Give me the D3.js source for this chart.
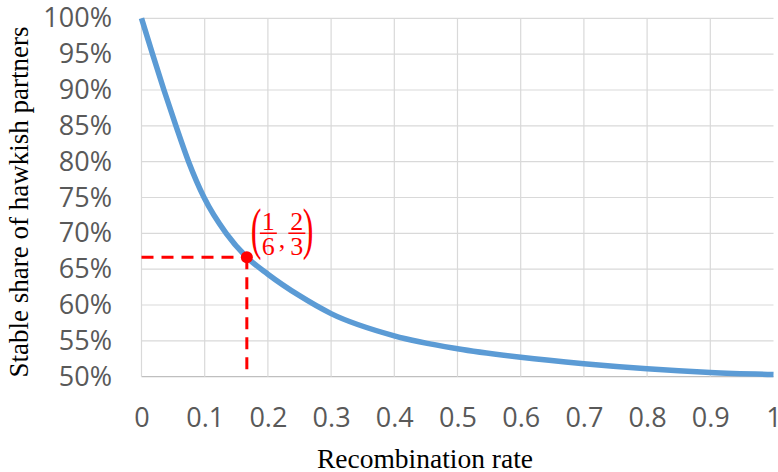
<!DOCTYPE html>
<html>
<head>
<meta charset="utf-8">
<script src="https://cdn.jsdelivr.net/npm/d3@7"></script>
<style>
  body { margin: 0; background: #fff; }
</style>
</head>
<body>
<script>
const width = 778;
const height = 472;

// values
const rates = [0, 0.0175, 0.0355, 0.0545, 0.0745, 0.099, 0.134, 1 / 6, 0.2, 0.25, 0.3, 0.4, 0.5, 0.6, 0.7, 0.8, 0.9, 1.0];
const shares = [1.0, 0.95, 0.90, 0.85, 0.80, 0.75, 0.70, 2 / 3, 0.643, 0.613, 0.588, 0.557, 0.539, 0.527, 0.518, 0.511, 0.506, 0.503];
const xTicks = [0, 0.1, 0.2, 0.3, 0.4, 0.5, 0.6, 0.7, 0.8, 0.9, 1];
const yTicks = [0.5, 0.55, 0.6, 0.65, 0.7, 0.75, 0.8, 0.85, 0.9, 0.95, 1];
const markX = 1 / 6;
const markY = 2 / 3;

const svg = d3.select("body").append("svg")
  .attr("width", width)
  .attr("height", height);

const x = d3.scaleLinear().domain([0, 1]).range([141.5, 773.5]);
const y = d3.scaleLinear().domain([0.5, 1]).range([376.7, 18.3]);

// grid
svg.append("g")
  .selectAll("line")
  .data(yTicks)
  .join("line")
  .attr("x1", x(0)).attr("x2", x(1))
  .attr("y1", d => y(d)).attr("y2", d => y(d))
  .attr("stroke", d => d === 0.5 ? "#bfbfbf" : "#d9d9d9")
  .attr("stroke-width", 1.2);

svg.append("g")
  .selectAll("line")
  .data(xTicks.slice(0, -1))
  .join("line")
  .attr("x1", d => x(d)).attr("x2", d => x(d))
  .attr("y1", y(1)).attr("y2", y(0.5))
  .attr("stroke", "#d9d9d9")
  .attr("stroke-width", 1.2);

// axes (labels only, Excel style)
const yAxis = d3.axisLeft(y).tickValues(yTicks).tickFormat(d3.format(".0%")).tickSize(0).tickPadding(0);
const gy = svg.append("g").attr("transform", "translate(112,0)").call(yAxis);
const xAxis = d3.axisBottom(x).tickValues(xTicks).tickFormat(d => d3.format("")(d)).tickSize(0).tickPadding(0);
const gx = svg.append("g").attr("transform", "translate(0,407.5)").call(xAxis);
[gy, gx].forEach(g => {
  g.select(".domain").remove();
  g.selectAll("text")
    .attr("font-family", "'Open Sans', sans-serif")
    .attr("font-size", 27)
    .attr("fill", "#595959");
});

// curve
const pts = rates.map((r, i) => [r, shares[i]]);
svg.append("path")
  .datum(pts)
  .attr("d", d3.line().x(d => x(d[0])).y(d => y(d[1])).curve(d3.curveMonotoneX))
  .attr("fill", "none")
  .attr("stroke", "#5b9bd5")
  .attr("stroke-width", 5.5);

// annotation
const px = x(markX), py = y(markY);
svg.append("line")
  .attr("x1", x(0)).attr("x2", px).attr("y1", py).attr("y2", py)
  .attr("stroke", "#ff0000").attr("stroke-width", 3).attr("stroke-dasharray", "12,8");
svg.append("line")
  .attr("x1", px).attr("x2", px).attr("y1", py).attr("y2", y(0.5))
  .attr("stroke", "#ff0000").attr("stroke-width", 3).attr("stroke-dasharray", "12,8");
svg.append("circle")
  .attr("cx", px).attr("cy", py).attr("r", 6)
  .attr("fill", "#ff0000");

const lab = svg.append("g")
  .attr("transform", `translate(${px},${py})`)
  .attr("fill", "#ff0000")
  .attr("font-family", "'Liberation Serif', serif");
lab.append("text").text("(")
  .attr("transform", "translate(4,-9) scale(1,1.75)")
  .attr("font-size", 32);
lab.append("text").text(")")
  .attr("transform", "translate(56,-9) scale(1,1.75)")
  .attr("font-size", 32);
lab.append("text").text("1").attr("x", 21.5).attr("y", -27).attr("text-anchor", "middle").attr("font-size", 26);
lab.append("text").text("6").attr("x", 21.5).attr("y", -2).attr("text-anchor", "middle").attr("font-size", 26);
lab.append("text").text("2").attr("x", 50).attr("y", -27).attr("text-anchor", "middle").attr("font-size", 26);
lab.append("text").text("3").attr("x", 50).attr("y", -2).attr("text-anchor", "middle").attr("font-size", 26);
lab.append("text").text(",").attr("x", 32).attr("y", -9).attr("font-size", 26);
lab.append("line").attr("x1", 13).attr("x2", 30).attr("y1", -24).attr("y2", -24).attr("stroke", "#ff0000").attr("stroke-width", 1.5);
lab.append("line").attr("x1", 41.5).attr("x2", 58.5).attr("y1", -24).attr("y2", -24).attr("stroke", "#ff0000").attr("stroke-width", 1.5);

// axis titles
svg.append("text")
  .text("Recombination rate")
  .attr("x", 425).attr("y", 468)
  .attr("text-anchor", "middle")
  .attr("font-family", "'Liberation Serif', serif")
  .attr("font-size", 27.5)
  .attr("fill", "#000");

svg.append("text")
  .text("Stable share of hawkish partners")
  .attr("transform", "translate(28,202) rotate(-90)")
  .attr("text-anchor", "middle")
  .attr("font-family", "'Liberation Serif', serif")
  .attr("font-size", 27)
  .attr("fill", "#000");
</script>
</body>
</html>
